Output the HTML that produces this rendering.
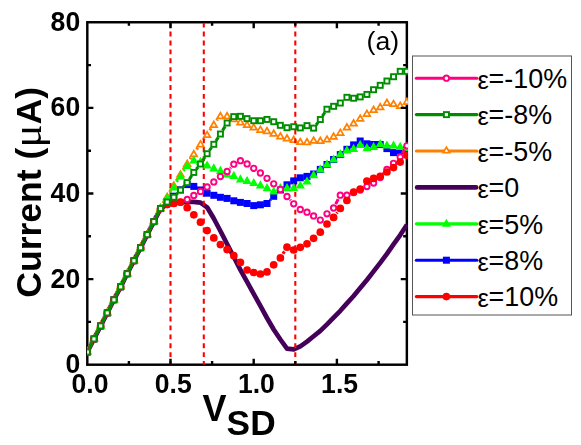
<!DOCTYPE html>
<html><head><meta charset="utf-8"><title>chart</title>
<style>html,body{margin:0;padding:0;background:#fff}svg{display:block}text{font-family:"Liberation Sans",sans-serif;fill:#000}</style>
</head><body>
<svg width="581" height="445" viewBox="0 0 581 445">
<rect width="581" height="445" fill="#fff"/>
<defs><clipPath id="c"><rect x="87.20" y="22.25" width="320.70" height="342.4"/></clipPath></defs>
<rect x="87.3" y="22.25" width="319.55" height="342.45" fill="none" stroke="#000" stroke-width="2.45"/>
<g clip-path="url(#c)">
<polyline points="87.3,352.0 94.0,339.0 100.6,325.9 107.3,312.9 113.9,299.8 120.6,286.8 127.2,273.8 133.9,260.7 140.6,247.7 147.2,234.6 153.9,221.6 160.5,208.6 167.2,204.5 173.8,203.4 180.5,202.2 187.2,201.9 193.8,201.9 200.5,202.6 207.1,207.3 213.8,218.5 220.4,231.0 227.1,244.0 233.8,257.0 240.4,269.9 247.1,281.9 253.7,293.8 260.4,305.9 267.0,318.0 273.7,329.5 280.4,339.5 287.0,348.7 293.7,349.4 300.3,346.3 307.0,341.6 313.6,336.2 320.3,330.9 327.0,324.4 333.6,317.7 340.3,310.8 346.9,303.4 353.6,296.0 360.2,288.0 366.9,280.0 373.6,271.4 380.2,262.9 386.9,253.9 393.5,244.4 400.2,235.1 406.9,224.7" fill="none" stroke="#45005a" stroke-width="4.7" stroke-linejoin="round"/>
<path d="M89.5 346.5L91.8 342.0M96.1 333.5L98.4 329.0M102.8 320.4L105.1 316.0M109.5 307.4L111.7 302.9M116.1 294.4L118.4 289.9M122.8 281.3L125.1 276.8M129.4 268.3L131.7 263.8M136.1 255.2L138.4 250.8M142.7 242.2L145.0 237.7M149.4 229.2L151.7 224.7M156.1 216.1L158.3 211.6M163.0 203.2L164.7 200.3M169.6 192.1L171.4 189.0M176.3 180.8L178.0 178.0M183.0 169.8L184.6 167.3M189.9 159.2L191.1 157.5M196.5 149.5L197.8 147.7M203.3 139.8L204.3 138.3M209.8 130.4L211.1 128.3M216.7 120.5L217.5 119.3" fill="none" stroke="#ff8000" stroke-width="3.05"/>
<path d="M84.0 353.6L90.6 353.6L87.3 348.0Z" fill="#fff" stroke="#ff8000" stroke-width="1.75"/>
<path d="M90.7 340.6L97.3 340.6L94.0 335.0Z" fill="#fff" stroke="#ff8000" stroke-width="1.75"/>
<path d="M97.3 327.5L103.9 327.5L100.6 321.9Z" fill="#fff" stroke="#ff8000" stroke-width="1.75"/>
<path d="M104.0 314.5L110.6 314.5L107.3 308.9Z" fill="#fff" stroke="#ff8000" stroke-width="1.75"/>
<path d="M110.6 301.4L117.2 301.4L113.9 295.8Z" fill="#fff" stroke="#ff8000" stroke-width="1.75"/>
<path d="M117.3 288.4L123.9 288.4L120.6 282.8Z" fill="#fff" stroke="#ff8000" stroke-width="1.75"/>
<path d="M123.9 275.4L130.5 275.4L127.2 269.8Z" fill="#fff" stroke="#ff8000" stroke-width="1.75"/>
<path d="M130.6 262.3L137.2 262.3L133.9 256.7Z" fill="#fff" stroke="#ff8000" stroke-width="1.75"/>
<path d="M137.3 249.3L143.9 249.3L140.6 243.7Z" fill="#fff" stroke="#ff8000" stroke-width="1.75"/>
<path d="M143.9 236.2L150.5 236.2L147.2 230.6Z" fill="#fff" stroke="#ff8000" stroke-width="1.75"/>
<path d="M150.6 223.2L157.2 223.2L153.9 217.6Z" fill="#fff" stroke="#ff8000" stroke-width="1.75"/>
<path d="M157.2 210.2L163.8 210.2L160.5 204.6Z" fill="#fff" stroke="#ff8000" stroke-width="1.75"/>
<path d="M163.9 199.0L170.5 199.0L167.2 193.4Z" fill="#fff" stroke="#ff8000" stroke-width="1.75"/>
<path d="M170.5 187.7L177.1 187.7L173.8 182.1Z" fill="#fff" stroke="#ff8000" stroke-width="1.75"/>
<path d="M177.2 176.7L183.8 176.7L180.5 171.1Z" fill="#fff" stroke="#ff8000" stroke-width="1.75"/>
<path d="M183.9 166.0L190.5 166.0L187.2 160.4Z" fill="#fff" stroke="#ff8000" stroke-width="1.75"/>
<path d="M190.5 156.3L197.1 156.3L193.8 150.7Z" fill="#fff" stroke="#ff8000" stroke-width="1.75"/>
<path d="M197.2 146.5L203.8 146.5L200.5 140.9Z" fill="#fff" stroke="#ff8000" stroke-width="1.75"/>
<path d="M203.8 137.2L210.4 137.2L207.1 131.6Z" fill="#fff" stroke="#ff8000" stroke-width="1.75"/>
<path d="M210.5 127.1L217.1 127.1L213.8 121.5Z" fill="#fff" stroke="#ff8000" stroke-width="1.75"/>
<path d="M217.1 118.3L223.7 118.3L220.4 112.7Z" fill="#fff" stroke="#ff8000" stroke-width="1.75"/>
<path d="M223.8 118.3L230.4 118.3L227.1 112.7Z" fill="#fff" stroke="#ff8000" stroke-width="1.75"/>
<path d="M230.5 121.4L237.1 121.4L233.8 115.8Z" fill="#fff" stroke="#ff8000" stroke-width="1.75"/>
<path d="M237.1 124.5L243.7 124.5L240.4 118.9Z" fill="#fff" stroke="#ff8000" stroke-width="1.75"/>
<path d="M243.8 127.1L250.4 127.1L247.1 121.5Z" fill="#fff" stroke="#ff8000" stroke-width="1.75"/>
<path d="M250.4 129.7L257.0 129.7L253.7 124.1Z" fill="#fff" stroke="#ff8000" stroke-width="1.75"/>
<path d="M257.1 132.0L263.7 132.0L260.4 126.4Z" fill="#fff" stroke="#ff8000" stroke-width="1.75"/>
<path d="M263.7 133.3L270.3 133.3L267.0 127.7Z" fill="#fff" stroke="#ff8000" stroke-width="1.75"/>
<path d="M270.4 135.9L277.0 135.9L273.7 130.3Z" fill="#fff" stroke="#ff8000" stroke-width="1.75"/>
<path d="M277.1 138.5L283.7 138.5L280.4 132.9Z" fill="#fff" stroke="#ff8000" stroke-width="1.75"/>
<path d="M283.7 140.6L290.3 140.6L287.0 135.0Z" fill="#fff" stroke="#ff8000" stroke-width="1.75"/>
<path d="M290.4 142.1L297.0 142.1L293.7 136.5Z" fill="#fff" stroke="#ff8000" stroke-width="1.75"/>
<path d="M297.0 144.2L303.6 144.2L300.3 138.6Z" fill="#fff" stroke="#ff8000" stroke-width="1.75"/>
<path d="M303.7 144.3L310.3 144.3L307.0 138.7Z" fill="#fff" stroke="#ff8000" stroke-width="1.75"/>
<path d="M310.3 142.8L316.9 142.8L313.6 137.2Z" fill="#fff" stroke="#ff8000" stroke-width="1.75"/>
<path d="M317.0 143.1L323.6 143.1L320.3 137.5Z" fill="#fff" stroke="#ff8000" stroke-width="1.75"/>
<path d="M323.7 141.7L330.3 141.7L327.0 136.1Z" fill="#fff" stroke="#ff8000" stroke-width="1.75"/>
<path d="M330.3 138.8L336.9 138.8L333.6 133.2Z" fill="#fff" stroke="#ff8000" stroke-width="1.75"/>
<path d="M337.0 135.0L343.6 135.0L340.3 129.4Z" fill="#fff" stroke="#ff8000" stroke-width="1.75"/>
<path d="M343.6 129.6L350.2 129.6L346.9 124.0Z" fill="#fff" stroke="#ff8000" stroke-width="1.75"/>
<path d="M350.3 125.6L356.9 125.6L353.6 120.0Z" fill="#fff" stroke="#ff8000" stroke-width="1.75"/>
<path d="M356.9 120.8L363.5 120.8L360.2 115.2Z" fill="#fff" stroke="#ff8000" stroke-width="1.75"/>
<path d="M363.6 116.0L370.2 116.0L366.9 110.4Z" fill="#fff" stroke="#ff8000" stroke-width="1.75"/>
<path d="M370.3 112.1L376.9 112.1L373.6 106.5Z" fill="#fff" stroke="#ff8000" stroke-width="1.75"/>
<path d="M376.9 109.4L383.5 109.4L380.2 103.8Z" fill="#fff" stroke="#ff8000" stroke-width="1.75"/>
<path d="M383.6 105.1L390.2 105.1L386.9 99.5Z" fill="#fff" stroke="#ff8000" stroke-width="1.75"/>
<path d="M390.2 106.2L396.8 106.2L393.5 100.6Z" fill="#fff" stroke="#ff8000" stroke-width="1.75"/>
<path d="M396.9 108.0L403.5 108.0L400.2 102.4Z" fill="#fff" stroke="#ff8000" stroke-width="1.75"/>
<path d="M403.6 104.0L410.2 104.0L406.9 98.4Z" fill="#fff" stroke="#ff8000" stroke-width="1.75"/>
<line x1="170.5" x2="170.5" y1="22.7" y2="364.7" stroke="#ff0000" stroke-width="2.1" stroke-dasharray="4.9 4.005"/>
<line x1="203.8" x2="203.8" y1="22.7" y2="364.7" stroke="#ff0000" stroke-width="2.1" stroke-dasharray="4.9 4.005"/>
<line x1="295.3" x2="295.3" y1="22.7" y2="364.7" stroke="#ff0000" stroke-width="2.1" stroke-dasharray="4.9 4.005"/>
</g>
<path d="M128.9 364.7v-3.6M128.9 22.25v3.6M170.5 364.7v-5.9M170.5 22.25v5.9M212.1 364.7v-3.6M212.1 22.25v3.6M253.7 364.7v-5.9M253.7 22.25v5.9M295.3 364.7v-3.6M295.3 22.25v3.6M336.9 364.7v-5.9M336.9 22.25v5.9M378.6 364.7v-3.6M378.6 22.25v3.6M87.3 321.9h3.7M406.85 321.9h-3.7M87.3 279.1h6.1M406.85 279.1h-6.1M87.3 236.3h3.7M406.85 236.3h-3.7M87.3 193.5h6.1M406.85 193.5h-6.1M87.3 150.7h3.7M406.85 150.7h-3.7M87.3 107.9h6.1M406.85 107.9h-6.1M87.3 65.1h3.7M406.85 65.1h-3.7" stroke="#000" stroke-width="2.4" fill="none"/>
<g clip-path="url(#c)">
<path d="M89.3 348.1L92.0 342.9M96.0 335.0L98.6 329.8M102.6 322.0L105.3 316.8M109.3 309.0L111.9 303.8M115.9 295.9L118.6 290.7M122.6 282.9L125.2 277.7M129.2 269.8L131.9 264.6M135.9 256.8L138.6 251.6M142.6 243.8L145.2 238.6M149.2 230.7L151.9 225.5M155.9 217.7L158.5 212.5M270.0 200.3L270.7 199.5" fill="none" stroke="#0000ff" stroke-width="3.05"/>
<rect x="83.8" y="348.5" width="7.0" height="7.0" fill="#0000ff"/>
<rect x="90.5" y="335.5" width="7.0" height="7.0" fill="#0000ff"/>
<rect x="97.1" y="322.4" width="7.0" height="7.0" fill="#0000ff"/>
<rect x="103.8" y="309.4" width="7.0" height="7.0" fill="#0000ff"/>
<rect x="110.4" y="296.3" width="7.0" height="7.0" fill="#0000ff"/>
<rect x="117.1" y="283.3" width="7.0" height="7.0" fill="#0000ff"/>
<rect x="123.7" y="270.3" width="7.0" height="7.0" fill="#0000ff"/>
<rect x="130.4" y="257.2" width="7.0" height="7.0" fill="#0000ff"/>
<rect x="137.1" y="244.2" width="7.0" height="7.0" fill="#0000ff"/>
<rect x="143.7" y="231.1" width="7.0" height="7.0" fill="#0000ff"/>
<rect x="150.4" y="218.1" width="7.0" height="7.0" fill="#0000ff"/>
<rect x="157.0" y="205.1" width="7.0" height="7.0" fill="#0000ff"/>
<rect x="163.7" y="198.0" width="7.0" height="7.0" fill="#0000ff"/>
<rect x="170.3" y="192.7" width="7.0" height="7.0" fill="#0000ff"/>
<rect x="177.0" y="186.3" width="7.0" height="7.0" fill="#0000ff"/>
<rect x="183.7" y="181.1" width="7.0" height="7.0" fill="#0000ff"/>
<rect x="190.3" y="182.9" width="7.0" height="7.0" fill="#0000ff"/>
<rect x="197.0" y="186.5" width="7.0" height="7.0" fill="#0000ff"/>
<rect x="203.6" y="189.7" width="7.0" height="7.0" fill="#0000ff"/>
<rect x="210.3" y="191.8" width="7.0" height="7.0" fill="#0000ff"/>
<rect x="216.9" y="193.8" width="7.0" height="7.0" fill="#0000ff"/>
<rect x="223.6" y="194.9" width="7.0" height="7.0" fill="#0000ff"/>
<rect x="230.3" y="197.3" width="7.0" height="7.0" fill="#0000ff"/>
<rect x="236.9" y="198.9" width="7.0" height="7.0" fill="#0000ff"/>
<rect x="243.6" y="200.0" width="7.0" height="7.0" fill="#0000ff"/>
<rect x="250.2" y="202.1" width="7.0" height="7.0" fill="#0000ff"/>
<rect x="256.9" y="201.3" width="7.0" height="7.0" fill="#0000ff"/>
<rect x="263.5" y="200.0" width="7.0" height="7.0" fill="#0000ff"/>
<rect x="270.2" y="192.8" width="7.0" height="7.0" fill="#0000ff"/>
<rect x="276.9" y="186.5" width="7.0" height="7.0" fill="#0000ff"/>
<rect x="283.5" y="181.3" width="7.0" height="7.0" fill="#0000ff"/>
<rect x="290.2" y="177.4" width="7.0" height="7.0" fill="#0000ff"/>
<rect x="296.8" y="174.3" width="7.0" height="7.0" fill="#0000ff"/>
<rect x="303.5" y="172.9" width="7.0" height="7.0" fill="#0000ff"/>
<rect x="310.1" y="170.5" width="7.0" height="7.0" fill="#0000ff"/>
<rect x="316.8" y="165.9" width="7.0" height="7.0" fill="#0000ff"/>
<rect x="323.5" y="161.0" width="7.0" height="7.0" fill="#0000ff"/>
<rect x="330.1" y="156.0" width="7.0" height="7.0" fill="#0000ff"/>
<rect x="336.8" y="151.1" width="7.0" height="7.0" fill="#0000ff"/>
<rect x="343.4" y="145.8" width="7.0" height="7.0" fill="#0000ff"/>
<rect x="350.1" y="141.4" width="7.0" height="7.0" fill="#0000ff"/>
<rect x="356.7" y="137.5" width="7.0" height="7.0" fill="#0000ff"/>
<rect x="363.4" y="140.3" width="7.0" height="7.0" fill="#0000ff"/>
<rect x="370.1" y="141.0" width="7.0" height="7.0" fill="#0000ff"/>
<rect x="376.7" y="141.0" width="7.0" height="7.0" fill="#0000ff"/>
<rect x="383.4" y="145.1" width="7.0" height="7.0" fill="#0000ff"/>
<rect x="390.0" y="149.1" width="7.0" height="7.0" fill="#0000ff"/>
<rect x="396.7" y="147.2" width="7.0" height="7.0" fill="#0000ff"/>
<rect x="403.4" y="146.0" width="7.0" height="7.0" fill="#0000ff"/>
<path d="M89.8 346.1L91.5 342.7M96.4 333.1L98.2 329.6M103.1 320.0L104.8 316.6M109.7 307.0L111.5 303.5M116.4 293.9L118.1 290.5M123.0 280.9L124.8 277.5M129.7 267.9L131.4 264.4M136.4 254.8L138.1 251.4M143.0 241.8L144.8 238.3M149.7 228.7L151.4 225.3M156.3 215.7L158.1 212.3M163.4 202.9L164.3 201.6M170.1 192.4L171.0 191.1M176.6 181.9L177.7 180.1M183.4 170.9L184.3 169.6" fill="none" stroke="#00ff00" stroke-width="3.05"/>
<path d="M82.8 354.9L91.8 354.9L87.3 346.8Z" fill="#00ff00"/>
<path d="M89.4 341.9L98.5 341.9L94.0 333.8Z" fill="#00ff00"/>
<path d="M96.1 328.9L105.2 328.9L100.6 320.8Z" fill="#00ff00"/>
<path d="M102.7 315.8L111.8 315.8L107.3 307.7Z" fill="#00ff00"/>
<path d="M109.4 302.8L118.5 302.8L113.9 294.7Z" fill="#00ff00"/>
<path d="M116.0 289.8L125.1 289.8L120.6 281.6Z" fill="#00ff00"/>
<path d="M122.7 276.7L131.8 276.7L127.2 268.6Z" fill="#00ff00"/>
<path d="M129.4 263.7L138.5 263.7L133.9 255.6Z" fill="#00ff00"/>
<path d="M136.0 250.6L145.1 250.6L140.6 242.5Z" fill="#00ff00"/>
<path d="M142.7 237.6L151.8 237.6L147.2 229.5Z" fill="#00ff00"/>
<path d="M149.3 224.6L158.4 224.6L153.9 216.5Z" fill="#00ff00"/>
<path d="M156.0 211.5L165.1 211.5L160.5 203.4Z" fill="#00ff00"/>
<path d="M162.6 201.1L171.7 201.1L167.2 192.9Z" fill="#00ff00"/>
<path d="M169.3 190.6L178.4 190.6L173.8 182.4Z" fill="#00ff00"/>
<path d="M176.0 179.6L185.1 179.6L180.5 171.4Z" fill="#00ff00"/>
<path d="M182.6 169.1L191.7 169.1L187.2 160.9Z" fill="#00ff00"/>
<path d="M189.3 163.4L198.4 163.4L193.8 155.2Z" fill="#00ff00"/>
<path d="M195.9 164.9L205.0 164.9L200.5 156.8Z" fill="#00ff00"/>
<path d="M202.6 168.6L211.7 168.6L207.1 160.4Z" fill="#00ff00"/>
<path d="M209.2 171.4L218.3 171.4L213.8 163.2Z" fill="#00ff00"/>
<path d="M215.9 173.9L225.0 173.9L220.4 165.8Z" fill="#00ff00"/>
<path d="M222.6 177.4L231.7 177.4L227.1 169.2Z" fill="#00ff00"/>
<path d="M229.2 179.0L238.3 179.0L233.8 170.8Z" fill="#00ff00"/>
<path d="M235.9 182.4L245.0 182.4L240.4 174.2Z" fill="#00ff00"/>
<path d="M242.5 184.1L251.6 184.1L247.1 175.9Z" fill="#00ff00"/>
<path d="M249.2 186.1L258.3 186.1L253.7 177.9Z" fill="#00ff00"/>
<path d="M255.8 188.4L264.9 188.4L260.4 180.2Z" fill="#00ff00"/>
<path d="M262.5 191.2L271.6 191.2L267.0 183.1Z" fill="#00ff00"/>
<path d="M269.2 194.6L278.3 194.6L273.7 186.4Z" fill="#00ff00"/>
<path d="M275.8 191.1L284.9 191.1L280.4 182.9Z" fill="#00ff00"/>
<path d="M282.5 191.2L291.6 191.2L287.0 183.1Z" fill="#00ff00"/>
<path d="M289.1 191.2L298.2 191.2L293.7 183.1Z" fill="#00ff00"/>
<path d="M295.8 188.6L304.9 188.6L300.3 180.4Z" fill="#00ff00"/>
<path d="M302.4 184.6L311.5 184.6L307.0 176.4Z" fill="#00ff00"/>
<path d="M309.1 178.2L318.2 178.2L313.6 170.1Z" fill="#00ff00"/>
<path d="M315.8 172.5L324.9 172.5L320.3 164.3Z" fill="#00ff00"/>
<path d="M322.4 167.5L331.5 167.5L327.0 159.3Z" fill="#00ff00"/>
<path d="M329.1 162.6L338.2 162.6L333.6 154.4Z" fill="#00ff00"/>
<path d="M335.7 157.2L344.8 157.2L340.3 149.0Z" fill="#00ff00"/>
<path d="M342.4 153.4L351.5 153.4L346.9 145.2Z" fill="#00ff00"/>
<path d="M349.0 152.0L358.1 152.0L353.6 143.8Z" fill="#00ff00"/>
<path d="M355.7 147.9L364.8 147.9L360.2 139.8Z" fill="#00ff00"/>
<path d="M362.4 151.2L371.5 151.2L366.9 143.1Z" fill="#00ff00"/>
<path d="M369.0 149.9L378.1 149.9L373.6 141.8Z" fill="#00ff00"/>
<path d="M375.7 147.1L384.8 147.1L380.2 138.9Z" fill="#00ff00"/>
<path d="M382.3 148.6L391.4 148.6L386.9 140.4Z" fill="#00ff00"/>
<path d="M389.0 148.6L398.1 148.6L393.5 140.4Z" fill="#00ff00"/>
<path d="M395.6 149.9L404.7 149.9L400.2 141.8Z" fill="#00ff00"/>
<path d="M402.3 151.1L411.4 151.1L406.9 142.9Z" fill="#00ff00"/>
<path d="M89.3 348.1L92.0 342.9M96.0 335.0L98.6 329.8M102.6 322.0L105.3 316.8M109.3 309.0L111.9 303.8M115.9 295.9L118.6 290.7M122.6 282.9L125.2 277.7M129.2 269.8L131.9 264.6M135.9 256.8L138.6 251.6M142.6 243.8L145.2 238.6M149.2 230.7L151.9 225.5M155.9 217.7L158.5 212.5M230.1 168.2L230.8 167.5M290.0 199.8L290.7 200.5M335.7 204.1L338.2 199.1M383.0 174.1L384.1 172.9M402.4 153.2L404.6 149.6" fill="none" stroke="#ff0080" stroke-width="3.05"/>
<circle cx="87.3" cy="352.0" r="2.7" fill="#fff" stroke="#ff0080" stroke-width="1.9"/>
<circle cx="94.0" cy="339.0" r="2.7" fill="#fff" stroke="#ff0080" stroke-width="1.9"/>
<circle cx="100.6" cy="325.9" r="2.7" fill="#fff" stroke="#ff0080" stroke-width="1.9"/>
<circle cx="107.3" cy="312.9" r="2.7" fill="#fff" stroke="#ff0080" stroke-width="1.9"/>
<circle cx="113.9" cy="299.8" r="2.7" fill="#fff" stroke="#ff0080" stroke-width="1.9"/>
<circle cx="120.6" cy="286.8" r="2.7" fill="#fff" stroke="#ff0080" stroke-width="1.9"/>
<circle cx="127.2" cy="273.8" r="2.7" fill="#fff" stroke="#ff0080" stroke-width="1.9"/>
<circle cx="133.9" cy="260.7" r="2.7" fill="#fff" stroke="#ff0080" stroke-width="1.9"/>
<circle cx="140.6" cy="247.7" r="2.7" fill="#fff" stroke="#ff0080" stroke-width="1.9"/>
<circle cx="147.2" cy="234.6" r="2.7" fill="#fff" stroke="#ff0080" stroke-width="1.9"/>
<circle cx="153.9" cy="221.6" r="2.7" fill="#fff" stroke="#ff0080" stroke-width="1.9"/>
<circle cx="160.5" cy="208.6" r="2.7" fill="#fff" stroke="#ff0080" stroke-width="1.9"/>
<circle cx="167.2" cy="204.5" r="2.7" fill="#fff" stroke="#ff0080" stroke-width="1.9"/>
<circle cx="173.8" cy="203.4" r="2.7" fill="#fff" stroke="#ff0080" stroke-width="1.9"/>
<circle cx="180.5" cy="202.2" r="2.7" fill="#fff" stroke="#ff0080" stroke-width="1.9"/>
<circle cx="187.2" cy="199.4" r="2.7" fill="#fff" stroke="#ff0080" stroke-width="1.9"/>
<circle cx="193.8" cy="195.4" r="2.7" fill="#fff" stroke="#ff0080" stroke-width="1.9"/>
<circle cx="200.5" cy="191.4" r="2.7" fill="#fff" stroke="#ff0080" stroke-width="1.9"/>
<circle cx="207.1" cy="186.9" r="2.7" fill="#fff" stroke="#ff0080" stroke-width="1.9"/>
<circle cx="213.8" cy="181.9" r="2.7" fill="#fff" stroke="#ff0080" stroke-width="1.9"/>
<circle cx="220.4" cy="176.6" r="2.7" fill="#fff" stroke="#ff0080" stroke-width="1.9"/>
<circle cx="227.1" cy="171.5" r="2.7" fill="#fff" stroke="#ff0080" stroke-width="1.9"/>
<circle cx="233.8" cy="164.2" r="2.7" fill="#fff" stroke="#ff0080" stroke-width="1.9"/>
<circle cx="240.4" cy="160.7" r="2.7" fill="#fff" stroke="#ff0080" stroke-width="1.9"/>
<circle cx="247.1" cy="163.9" r="2.7" fill="#fff" stroke="#ff0080" stroke-width="1.9"/>
<circle cx="253.7" cy="168.3" r="2.7" fill="#fff" stroke="#ff0080" stroke-width="1.9"/>
<circle cx="260.4" cy="173.0" r="2.7" fill="#fff" stroke="#ff0080" stroke-width="1.9"/>
<circle cx="267.0" cy="178.3" r="2.7" fill="#fff" stroke="#ff0080" stroke-width="1.9"/>
<circle cx="273.7" cy="183.8" r="2.7" fill="#fff" stroke="#ff0080" stroke-width="1.9"/>
<circle cx="280.4" cy="189.5" r="2.7" fill="#fff" stroke="#ff0080" stroke-width="1.9"/>
<circle cx="287.0" cy="196.5" r="2.7" fill="#fff" stroke="#ff0080" stroke-width="1.9"/>
<circle cx="293.7" cy="203.8" r="2.7" fill="#fff" stroke="#ff0080" stroke-width="1.9"/>
<circle cx="300.3" cy="209.5" r="2.7" fill="#fff" stroke="#ff0080" stroke-width="1.9"/>
<circle cx="307.0" cy="212.2" r="2.7" fill="#fff" stroke="#ff0080" stroke-width="1.9"/>
<circle cx="313.6" cy="215.9" r="2.7" fill="#fff" stroke="#ff0080" stroke-width="1.9"/>
<circle cx="320.3" cy="220.1" r="2.7" fill="#fff" stroke="#ff0080" stroke-width="1.9"/>
<circle cx="327.0" cy="213.8" r="2.7" fill="#fff" stroke="#ff0080" stroke-width="1.9"/>
<circle cx="333.6" cy="208.0" r="2.7" fill="#fff" stroke="#ff0080" stroke-width="1.9"/>
<circle cx="340.3" cy="195.2" r="2.7" fill="#fff" stroke="#ff0080" stroke-width="1.9"/>
<circle cx="346.9" cy="195.2" r="2.7" fill="#fff" stroke="#ff0080" stroke-width="1.9"/>
<circle cx="353.6" cy="192.5" r="2.7" fill="#fff" stroke="#ff0080" stroke-width="1.9"/>
<circle cx="360.2" cy="190.0" r="2.7" fill="#fff" stroke="#ff0080" stroke-width="1.9"/>
<circle cx="366.9" cy="186.6" r="2.7" fill="#fff" stroke="#ff0080" stroke-width="1.9"/>
<circle cx="373.6" cy="183.0" r="2.7" fill="#fff" stroke="#ff0080" stroke-width="1.9"/>
<circle cx="380.2" cy="177.5" r="2.7" fill="#fff" stroke="#ff0080" stroke-width="1.9"/>
<circle cx="386.9" cy="169.5" r="2.7" fill="#fff" stroke="#ff0080" stroke-width="1.9"/>
<circle cx="393.5" cy="163.3" r="2.7" fill="#fff" stroke="#ff0080" stroke-width="1.9"/>
<circle cx="400.2" cy="157.0" r="2.7" fill="#fff" stroke="#ff0080" stroke-width="1.9"/>
<circle cx="406.9" cy="145.8" r="2.7" fill="#fff" stroke="#ff0080" stroke-width="1.9"/>
<path d="M89.6 347.5L91.7 343.4M96.2 334.5L98.3 330.4M102.9 321.5L105.0 317.3M109.5 308.4L111.7 304.3M116.2 295.4L118.3 291.3M122.9 282.3L125.0 278.2M129.5 269.3L131.6 265.2M136.2 256.3L138.3 252.1M142.8 243.2L144.9 239.1M149.5 230.2L151.6 226.1M156.1 217.1L158.3 213.0M283.0 253.7L284.4 251.4M336.6 213.4L337.3 212.4" fill="none" stroke="#ff0000" stroke-width="3.05"/>
<circle cx="87.3" cy="352.0" r="3.85" fill="#ff0000"/>
<circle cx="94.0" cy="339.0" r="3.85" fill="#ff0000"/>
<circle cx="100.6" cy="325.9" r="3.85" fill="#ff0000"/>
<circle cx="107.3" cy="312.9" r="3.85" fill="#ff0000"/>
<circle cx="113.9" cy="299.8" r="3.85" fill="#ff0000"/>
<circle cx="120.6" cy="286.8" r="3.85" fill="#ff0000"/>
<circle cx="127.2" cy="273.8" r="3.85" fill="#ff0000"/>
<circle cx="133.9" cy="260.7" r="3.85" fill="#ff0000"/>
<circle cx="140.6" cy="247.7" r="3.85" fill="#ff0000"/>
<circle cx="147.2" cy="234.6" r="3.85" fill="#ff0000"/>
<circle cx="153.9" cy="221.6" r="3.85" fill="#ff0000"/>
<circle cx="160.5" cy="208.6" r="3.85" fill="#ff0000"/>
<circle cx="167.2" cy="204.5" r="3.85" fill="#ff0000"/>
<circle cx="173.8" cy="203.4" r="3.85" fill="#ff0000"/>
<circle cx="180.5" cy="202.2" r="3.85" fill="#ff0000"/>
<circle cx="187.2" cy="207.7" r="3.85" fill="#ff0000"/>
<circle cx="193.8" cy="214.8" r="3.85" fill="#ff0000"/>
<circle cx="200.5" cy="222.2" r="3.85" fill="#ff0000"/>
<circle cx="207.1" cy="230.6" r="3.85" fill="#ff0000"/>
<circle cx="213.8" cy="237.9" r="3.85" fill="#ff0000"/>
<circle cx="220.4" cy="244.6" r="3.85" fill="#ff0000"/>
<circle cx="227.1" cy="249.6" r="3.85" fill="#ff0000"/>
<circle cx="233.8" cy="255.7" r="3.85" fill="#ff0000"/>
<circle cx="240.4" cy="262.4" r="3.85" fill="#ff0000"/>
<circle cx="247.1" cy="270.0" r="3.85" fill="#ff0000"/>
<circle cx="253.7" cy="272.5" r="3.85" fill="#ff0000"/>
<circle cx="260.4" cy="274.0" r="3.85" fill="#ff0000"/>
<circle cx="267.0" cy="271.9" r="3.85" fill="#ff0000"/>
<circle cx="273.7" cy="264.8" r="3.85" fill="#ff0000"/>
<circle cx="280.4" cy="257.9" r="3.85" fill="#ff0000"/>
<circle cx="287.0" cy="247.2" r="3.85" fill="#ff0000"/>
<circle cx="293.7" cy="250.0" r="3.85" fill="#ff0000"/>
<circle cx="300.3" cy="247.3" r="3.85" fill="#ff0000"/>
<circle cx="307.0" cy="243.8" r="3.85" fill="#ff0000"/>
<circle cx="313.6" cy="238.3" r="3.85" fill="#ff0000"/>
<circle cx="320.3" cy="232.2" r="3.85" fill="#ff0000"/>
<circle cx="327.0" cy="224.0" r="3.85" fill="#ff0000"/>
<circle cx="333.6" cy="217.4" r="3.85" fill="#ff0000"/>
<circle cx="340.3" cy="208.4" r="3.85" fill="#ff0000"/>
<circle cx="346.9" cy="200.5" r="3.85" fill="#ff0000"/>
<circle cx="353.6" cy="192.0" r="3.85" fill="#ff0000"/>
<circle cx="360.2" cy="189.0" r="3.85" fill="#ff0000"/>
<circle cx="366.9" cy="181.0" r="3.85" fill="#ff0000"/>
<circle cx="373.6" cy="178.4" r="3.85" fill="#ff0000"/>
<circle cx="380.2" cy="176.4" r="3.85" fill="#ff0000"/>
<circle cx="386.9" cy="172.0" r="3.85" fill="#ff0000"/>
<circle cx="393.5" cy="167.6" r="3.85" fill="#ff0000"/>
<circle cx="400.2" cy="162.1" r="3.85" fill="#ff0000"/>
<circle cx="406.9" cy="155.3" r="3.85" fill="#ff0000"/>
<path d="M89.1 348.5L92.2 342.5M95.8 335.4L98.8 329.4M102.4 322.4L105.5 316.4M109.1 309.4L112.1 303.4M115.7 296.3L118.8 290.3M122.4 283.3L125.4 277.3M129.0 270.2L132.1 264.2M135.7 257.2L138.8 251.2M142.4 244.2L145.4 238.2M149.0 231.1L152.1 225.1M155.7 218.1L158.7 212.1M163.3 205.8L164.4 204.8M176.5 194.3L177.8 193.0M183.1 187.1L184.5 185.6M189.3 179.3L191.7 175.7M196.3 169.3L198.0 167.1M202.6 160.7L205.0 157.0M209.4 150.5L211.5 147.5M215.9 141.0L218.3 137.3M222.5 130.6L225.1 126.4M230.0 120.3L230.9 119.3M316.1 125.0L317.9 122.6M322.4 116.2L324.8 112.5" fill="none" stroke="#008c00" stroke-width="3.05"/>
<rect x="84.8" y="349.5" width="5.05" height="5.05" fill="#fff" stroke="#008c00" stroke-width="1.9"/>
<rect x="91.4" y="336.4" width="5.05" height="5.05" fill="#fff" stroke="#008c00" stroke-width="1.9"/>
<rect x="98.1" y="323.4" width="5.05" height="5.05" fill="#fff" stroke="#008c00" stroke-width="1.9"/>
<rect x="104.7" y="310.4" width="5.05" height="5.05" fill="#fff" stroke="#008c00" stroke-width="1.9"/>
<rect x="111.4" y="297.3" width="5.05" height="5.05" fill="#fff" stroke="#008c00" stroke-width="1.9"/>
<rect x="118.1" y="284.3" width="5.05" height="5.05" fill="#fff" stroke="#008c00" stroke-width="1.9"/>
<rect x="124.7" y="271.2" width="5.05" height="5.05" fill="#fff" stroke="#008c00" stroke-width="1.9"/>
<rect x="131.4" y="258.2" width="5.05" height="5.05" fill="#fff" stroke="#008c00" stroke-width="1.9"/>
<rect x="138.0" y="245.2" width="5.05" height="5.05" fill="#fff" stroke="#008c00" stroke-width="1.9"/>
<rect x="144.7" y="232.1" width="5.05" height="5.05" fill="#fff" stroke="#008c00" stroke-width="1.9"/>
<rect x="151.3" y="219.1" width="5.05" height="5.05" fill="#fff" stroke="#008c00" stroke-width="1.9"/>
<rect x="158.0" y="206.0" width="5.05" height="5.05" fill="#fff" stroke="#008c00" stroke-width="1.9"/>
<rect x="164.7" y="199.5" width="5.05" height="5.05" fill="#fff" stroke="#008c00" stroke-width="1.9"/>
<rect x="171.3" y="194.7" width="5.05" height="5.05" fill="#fff" stroke="#008c00" stroke-width="1.9"/>
<rect x="178.0" y="187.6" width="5.05" height="5.05" fill="#fff" stroke="#008c00" stroke-width="1.9"/>
<rect x="184.6" y="180.1" width="5.05" height="5.05" fill="#fff" stroke="#008c00" stroke-width="1.9"/>
<rect x="191.3" y="169.9" width="5.05" height="5.05" fill="#fff" stroke="#008c00" stroke-width="1.9"/>
<rect x="197.9" y="161.5" width="5.05" height="5.05" fill="#fff" stroke="#008c00" stroke-width="1.9"/>
<rect x="204.6" y="151.2" width="5.05" height="5.05" fill="#fff" stroke="#008c00" stroke-width="1.9"/>
<rect x="211.3" y="141.8" width="5.05" height="5.05" fill="#fff" stroke="#008c00" stroke-width="1.9"/>
<rect x="217.9" y="131.5" width="5.05" height="5.05" fill="#fff" stroke="#008c00" stroke-width="1.9"/>
<rect x="224.6" y="120.5" width="5.05" height="5.05" fill="#fff" stroke="#008c00" stroke-width="1.9"/>
<rect x="231.2" y="114.1" width="5.05" height="5.05" fill="#fff" stroke="#008c00" stroke-width="1.9"/>
<rect x="237.9" y="113.8" width="5.05" height="5.05" fill="#fff" stroke="#008c00" stroke-width="1.9"/>
<rect x="244.5" y="116.1" width="5.05" height="5.05" fill="#fff" stroke="#008c00" stroke-width="1.9"/>
<rect x="251.2" y="118.2" width="5.05" height="5.05" fill="#fff" stroke="#008c00" stroke-width="1.9"/>
<rect x="257.9" y="118.2" width="5.05" height="5.05" fill="#fff" stroke="#008c00" stroke-width="1.9"/>
<rect x="264.5" y="116.9" width="5.05" height="5.05" fill="#fff" stroke="#008c00" stroke-width="1.9"/>
<rect x="271.2" y="119.2" width="5.05" height="5.05" fill="#fff" stroke="#008c00" stroke-width="1.9"/>
<rect x="277.8" y="122.8" width="5.05" height="5.05" fill="#fff" stroke="#008c00" stroke-width="1.9"/>
<rect x="284.5" y="125.2" width="5.05" height="5.05" fill="#fff" stroke="#008c00" stroke-width="1.9"/>
<rect x="291.2" y="124.2" width="5.05" height="5.05" fill="#fff" stroke="#008c00" stroke-width="1.9"/>
<rect x="297.8" y="125.4" width="5.05" height="5.05" fill="#fff" stroke="#008c00" stroke-width="1.9"/>
<rect x="304.5" y="123.1" width="5.05" height="5.05" fill="#fff" stroke="#008c00" stroke-width="1.9"/>
<rect x="311.1" y="125.6" width="5.05" height="5.05" fill="#fff" stroke="#008c00" stroke-width="1.9"/>
<rect x="317.8" y="117.0" width="5.05" height="5.05" fill="#fff" stroke="#008c00" stroke-width="1.9"/>
<rect x="324.4" y="106.7" width="5.05" height="5.05" fill="#fff" stroke="#008c00" stroke-width="1.9"/>
<rect x="331.1" y="103.8" width="5.05" height="5.05" fill="#fff" stroke="#008c00" stroke-width="1.9"/>
<rect x="337.8" y="100.5" width="5.05" height="5.05" fill="#fff" stroke="#008c00" stroke-width="1.9"/>
<rect x="344.4" y="94.8" width="5.05" height="5.05" fill="#fff" stroke="#008c00" stroke-width="1.9"/>
<rect x="351.1" y="95.7" width="5.05" height="5.05" fill="#fff" stroke="#008c00" stroke-width="1.9"/>
<rect x="357.7" y="94.4" width="5.05" height="5.05" fill="#fff" stroke="#008c00" stroke-width="1.9"/>
<rect x="364.4" y="91.9" width="5.05" height="5.05" fill="#fff" stroke="#008c00" stroke-width="1.9"/>
<rect x="371.0" y="87.2" width="5.05" height="5.05" fill="#fff" stroke="#008c00" stroke-width="1.9"/>
<rect x="377.7" y="82.8" width="5.05" height="5.05" fill="#fff" stroke="#008c00" stroke-width="1.9"/>
<rect x="384.4" y="78.5" width="5.05" height="5.05" fill="#fff" stroke="#008c00" stroke-width="1.9"/>
<rect x="391.0" y="74.2" width="5.05" height="5.05" fill="#fff" stroke="#008c00" stroke-width="1.9"/>
<rect x="397.7" y="68.8" width="5.05" height="5.05" fill="#fff" stroke="#008c00" stroke-width="1.9"/>
<rect x="404.3" y="68.8" width="5.05" height="5.05" fill="#fff" stroke="#008c00" stroke-width="1.9"/>
</g>
<g opacity="0.999"><text transform="translate(80.2,373.2) scale(0.95,1)" text-anchor="end" font-size="28.0" font-weight="bold">0</text>
<text transform="translate(80.2,287.6) scale(0.95,1)" text-anchor="end" font-size="28.0" font-weight="bold">20</text>
<text transform="translate(80.2,202.0) scale(0.95,1)" text-anchor="end" font-size="28.0" font-weight="bold">40</text>
<text transform="translate(80.2,116.4) scale(0.95,1)" text-anchor="end" font-size="28.0" font-weight="bold">60</text>
<text transform="translate(80.2,30.8) scale(0.95,1)" text-anchor="end" font-size="28.0" font-weight="bold">80</text>
<text transform="translate(90.0,393.0) scale(0.95,1)" text-anchor="middle" font-size="28.0" font-weight="bold">0.0</text>
<text transform="translate(173.2,393.0) scale(0.95,1)" text-anchor="middle" font-size="28.0" font-weight="bold">0.5</text>
<text transform="translate(256.4,393.0) scale(0.95,1)" text-anchor="middle" font-size="28.0" font-weight="bold">1.0</text>
<text transform="translate(339.6,393.0) scale(0.95,1)" text-anchor="middle" font-size="28.0" font-weight="bold">1.5</text>
<text x="202.6" y="420.8" font-size="36" font-weight="bold">V</text>
<text x="226.6" y="435.2" font-size="35.3" font-weight="bold">SD</text>
<text transform="translate(40.6,297.8) rotate(-90)" font-size="35.6" font-weight="bold">Current (<tspan font-family="Liberation Serif" font-weight="normal" font-size="43">μ</tspan>A)</text>
<text x="366.5" y="49.6" font-size="26.7">(a)</text></g>
<g opacity="0.999"><rect x="412.5" y="56" width="159" height="259" fill="#fff" stroke="#555" stroke-width="1"/>
<line x1="416.38" x2="476.82" y1="78.2" y2="78.2" stroke="#ff0080" stroke-width="3.15" stroke-linecap="round"/>
<circle cx="446.4" cy="78.2" r="2.7" fill="#fff" stroke="#ff0080" stroke-width="1.9"/>
<text transform="translate(477.6,88.7) scale(1.02,1.04)" font-size="25" font-family="Liberation Serif">ε</text>
<text x="488.6" y="87.9" font-size="26.9">=-10%</text>
<line x1="416.38" x2="476.82" y1="114.6" y2="114.6" stroke="#008c00" stroke-width="3.15" stroke-linecap="round"/>
<rect x="443.9" y="112.1" width="5.05" height="5.05" fill="#fff" stroke="#008c00" stroke-width="1.9"/>
<text transform="translate(477.6,125.1) scale(1.02,1.04)" font-size="25" font-family="Liberation Serif">ε</text>
<text x="488.6" y="124.3" font-size="26.9">=-8%</text>
<line x1="416.38" x2="476.82" y1="151.0" y2="151.0" stroke="#ff8000" stroke-width="3.15" stroke-linecap="round"/>
<path d="M443.1 152.7L449.7 152.7L446.4 147.1Z" fill="#fff" stroke="#ff8000" stroke-width="1.75"/>
<text transform="translate(477.6,161.5) scale(1.02,1.04)" font-size="25" font-family="Liberation Serif">ε</text>
<text x="488.6" y="160.7" font-size="26.9">=-5%</text>
<line x1="417.15" x2="476.05" y1="187.4" y2="187.4" stroke="#45005a" stroke-width="4.7" stroke-linecap="round"/>
<text transform="translate(477.6,197.9) scale(1.02,1.04)" font-size="25" font-family="Liberation Serif">ε</text>
<text x="488.6" y="197.1" font-size="26.9">=0</text>
<line x1="416.38" x2="476.82" y1="223.8" y2="223.8" stroke="#00ff00" stroke-width="3.15" stroke-linecap="round"/>
<path d="M441.8 226.8L450.9 226.8L446.4 218.7Z" fill="#00ff00"/>
<text transform="translate(477.6,234.3) scale(1.02,1.04)" font-size="25" font-family="Liberation Serif">ε</text>
<text x="488.6" y="233.5" font-size="26.9">=5%</text>
<line x1="416.38" x2="476.82" y1="260.2" y2="260.2" stroke="#0000ff" stroke-width="3.15" stroke-linecap="round"/>
<rect x="442.9" y="256.7" width="7.0" height="7.0" fill="#0000ff"/>
<text transform="translate(477.6,270.7) scale(1.02,1.04)" font-size="25" font-family="Liberation Serif">ε</text>
<text x="488.6" y="269.9" font-size="26.9">=8%</text>
<line x1="416.38" x2="476.82" y1="296.6" y2="296.6" stroke="#ff0000" stroke-width="3.15" stroke-linecap="round"/>
<circle cx="446.4" cy="296.6" r="3.85" fill="#ff0000"/>
<text transform="translate(477.6,307.1) scale(1.02,1.04)" font-size="25" font-family="Liberation Serif">ε</text>
<text x="488.6" y="306.3" font-size="26.9">=10%</text></g>
</svg>
</body></html>
